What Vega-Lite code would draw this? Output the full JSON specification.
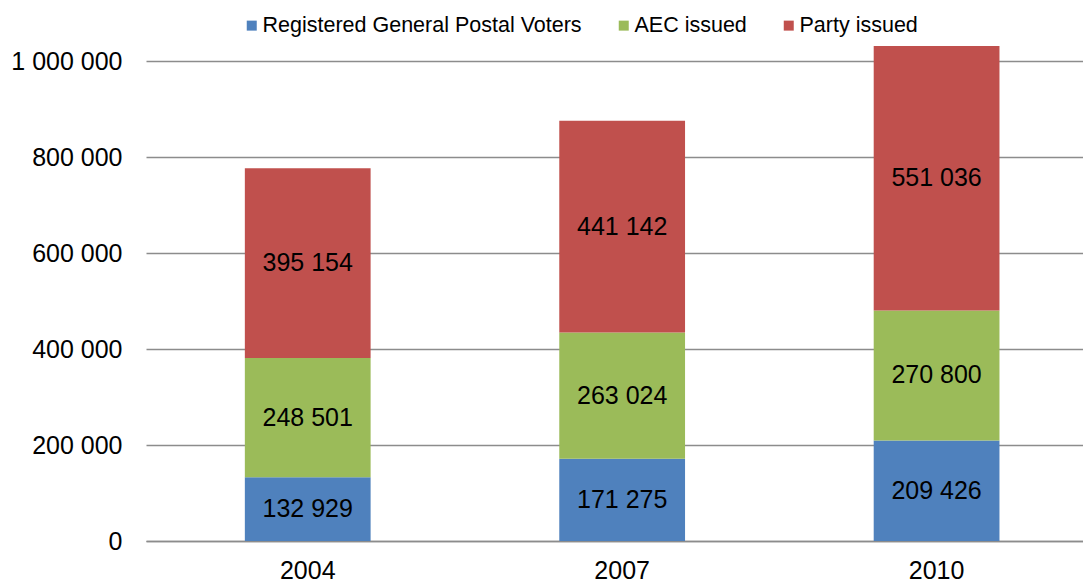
{
  "$schema": "https://vega.github.io/schema/vega-lite/v6.json",
  "width": 937,
  "height": 504,
  "autosize": {"type": "none"},
  "padding": {"left": 146, "top": 37, "right": 0, "bottom": 43},
  "background": "white",
  "config": {
    "view": {"stroke": null},
    "font": "Liberation Sans",
    "axis": {"labelFont": "Liberation Sans", "labelColor": "black"}
  },
  "data": {
    "values": [
      {"year": "2004", "series": "Registered General Postal Voters", "k": 1, "value": 132929},
      {"year": "2004", "series": "AEC issued", "k": 2, "value": 248501},
      {"year": "2004", "series": "Party issued", "k": 3, "value": 395154},
      {"year": "2007", "series": "Registered General Postal Voters", "k": 1, "value": 171275},
      {"year": "2007", "series": "AEC issued", "k": 2, "value": 263024},
      {"year": "2007", "series": "Party issued", "k": 3, "value": 441142},
      {"year": "2010", "series": "Registered General Postal Voters", "k": 1, "value": 209426},
      {"year": "2010", "series": "AEC issued", "k": 2, "value": 270800},
      {"year": "2010", "series": "Party issued", "k": 3, "value": 551036}
    ]
  },
  "transform": [
    {"stack": "value", "groupby": ["year"], "sort": [{"field": "k", "order": "ascending"}], "as": ["v0", "v1"]},
    {"calculate": "(datum.v0 + datum.v1) / 2", "as": "mid"},
    {"calculate": "replace(format(datum.value, ','), /,/g, ' ')", "as": "lbl"}
  ],
  "encoding": {
    "x": {
      "field": "year", "type": "nominal", "title": null,
      "scale": {"paddingInner": 0.6, "paddingOuter": 0.29, "align": 0.542},
      "axis": {"labelAngle": 0, "labelFontSize": 25, "ticks": false, "domain": true, "domainColor": "#8c8c8c", "domainWidth": 1.3, "labelPadding": 17, "grid": false}
    }
  },
  "layer": [
    {
      "mark": {"type": "bar"},
      "encoding": {
        "y": {
          "field": "v0", "type": "quantitative", "title": null,
          "scale": {"domain": [0, 1050000], "nice": false},
          "axis": {
            "values": [0, 200000, 400000, 600000, 800000, 1000000],
            "labelExpr": "replace(format(datum.value, ','), /,/g, ' ')",
            "labelFontSize": 25, "ticks": false, "domain": false,
            "gridColor": "#8c8c8c", "gridWidth": 1.3, "labelPadding": 24
          }
        },
        "y2": {"field": "v1"},
        "color": {
          "field": "series", "type": "nominal",
          "scale": {
            "domain": ["Registered General Postal Voters", "AEC issued", "Party issued"],
            "range": ["#4F81BD", "#9BBB59", "#C0504D"]
          },
          "legend": {
            "title": null, "orient": "none", "direction": "horizontal",
            "legendX": 95, "legendY": -22.5, "padding": 0,
            "symbolType": "square", "symbolSize": 100, "symbolStrokeWidth": 0,
            "labelFontSize": 21.5, "labelFont": "Liberation Sans", "labelColor": "black",
            "labelOffset": 0, "columnPadding": 31, "labelLimit": 500
          }
        }
      }
    },
    {
      "mark": {"type": "text", "fontSize": 25, "font": "Liberation Sans", "color": "black", "baseline": "middle", "align": "center"},
      "encoding": {
        "y": {"field": "mid", "type": "quantitative"},
        "text": {"field": "lbl"}
      }
    }
  ]
}
